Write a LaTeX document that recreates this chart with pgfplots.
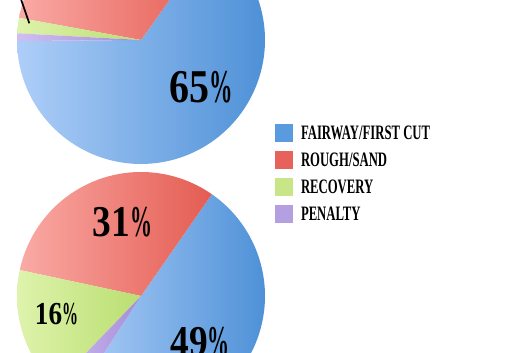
\documentclass[border=0pt]{standalone}
\usepackage{pgfplots}
\pgfplotsset{compat=1.18}
\usepackage{pgfplotstable}
\usepackage{fontspec}
\setmainfont{Liberation Serif}

\definecolor{legBlue}{RGB}{90,154,222}
\definecolor{legRed}{RGB}{232,98,92}
\definecolor{legGreen}{RGB}{200,230,135}
\definecolor{legPurple}{RGB}{180,160,224}
\definecolor{blueL}{RGB}{174,206,248}
\definecolor{blueR}{RGB}{78,145,215}
\definecolor{redL}{RGB}{250,170,165}
\definecolor{redR}{RGB}{228,92,82}
\definecolor{greenL}{RGB}{222,243,172}
\definecolor{greenR}{RGB}{186,222,112}
\definecolor{purpleL}{RGB}{208,190,242}
\definecolor{purpleR}{RGB}{165,140,215}

\pgfplotstableread{
category value
fairway 65
rough 32
recovery 2
penalty 1
}\toppie
\pgfplotstableread{
category value
fairway 49
rough 31
recovery 16
penalty 3
}\botpie

\newcommand\pieslice[6]{%
  \addplot[draw=none, forget plot, left color=#5, right color=#6,
    domain=#3:#4, samples=120, variable=\t]
    ({#1+124*cos(\t)},{#2+124*sin(\t)}) -- (#1,#2) -- cycle;}
\newcommand\pct[2]{\fontsize{#1}{#1}\selectfont\bfseries\scalebox{0.85}[1]{#2}\scalebox{0.5}[1]{\%}}
\newcommand\legtxt[1]{\scalebox{0.62}[1]{#1}}

\begin{document}
\begin{tikzpicture}
\pgfplotstablegetelem{0}{value}\of\toppie\edef\TvA{\pgfplotsretval}
\pgfplotstablegetelem{1}{value}\of\toppie\edef\TvB{\pgfplotsretval}
\pgfplotstablegetelem{2}{value}\of\toppie\edef\TvC{\pgfplotsretval}
\pgfplotstablegetelem{3}{value}\of\toppie\edef\TvD{\pgfplotsretval}
\pgfplotstablegetelem{0}{value}\of\botpie\edef\BvA{\pgfplotsretval}
\pgfplotstablegetelem{1}{value}\of\botpie\edef\BvB{\pgfplotsretval}
\pgfplotstablegetelem{2}{value}\of\botpie\edef\BvC{\pgfplotsretval}
\pgfplotstablegetelem{3}{value}\of\botpie\edef\BvD{\pgfplotsretval}
\pgfmathsetmacro\TS{\TvA+\TvB+\TvC+\TvD}
\pgfmathsetmacro\angTa{180.5}
\pgfmathsetmacro\angTb{\angTa+\TvA/\TS*360}
\pgfmathsetmacro\angTc{\angTb+\TvB/\TS*360}
\pgfmathsetmacro\angTd{\angTc+\TvC/\TS*360}
\pgfmathsetmacro\angTe{\angTd+\TvD/\TS*360}
\pgfmathsetmacro\BS{\BvA+\BvB+\BvC+\BvD}
\pgfmathsetmacro\angBa{237}
\pgfmathsetmacro\angBb{\angBa+\BvA/\BS*360}
\pgfmathsetmacro\angBc{\angBb+\BvB/\BS*360}
\pgfmathsetmacro\angBd{\angBc+\BvC/\BS*360}
\pgfmathsetmacro\angBe{\angBd+\BvD/\BS*360}
\begin{axis}[name=ax, at={(0,0)}, anchor=south west,
  width=530pt, height=353pt, scale only axis,
  xmin=0, xmax=530, ymin=0, ymax=353, hide axis, clip=true,
  legend style={at={(axis cs:275,229)}, anchor=north west, draw=none, fill=none,
    inner sep=0pt, outer sep=0pt, row sep=9pt, column sep=8pt,
    font=\fontsize{20.5}{20.5}\selectfont\bfseries,
    nodes={inner sep=0pt, text height=15.6pt, text depth=2.4pt}},
  legend cell align=left,
  legend image code/.code={\fill[#1] (0pt,-9pt) rectangle (18pt,9pt);}]
\addlegendimage{fill=legBlue, draw=none}
\addlegendentry{\legtxt{FAIRWAY/FIRST CUT}}
\addlegendimage{fill=legRed, draw=none}
\addlegendentry{\legtxt{ROUGH/SAND}}
\addlegendimage{fill=legGreen, draw=none}
\addlegendentry{\legtxt{RECOVERY}}
\addlegendimage{fill=legPurple, draw=none}
\addlegendentry{\legtxt{PENALTY}}
% top pie
\pieslice{141}{313}{\angTa}{\angTb}{blueL}{blueR}
\pieslice{141}{313}{\angTb}{\angTc}{redL}{redR}
\pieslice{141}{313}{\angTc}{\angTd}{greenL}{greenR}
\pieslice{141}{313}{\angTd}{\angTe}{purpleL}{purpleR}
% bottom pie
\pieslice{141}{57}{\angBa}{\angBb}{blueL}{blueR}
\pieslice{141}{57}{\angBb}{\angBc}{redL}{redR}
\pieslice{141}{57}{\angBc}{\angBd}{greenL}{greenR}
\pieslice{141}{57}{\angBd}{\angBe}{purpleL}{purpleR}
% leader line
\addplot[forget plot, black, line width=1.7pt] coordinates {(20.2,356) (29.3,329.7)};
\node[inner sep=0pt] at (axis cs:201,266) {\pct{47}{65}};
\node[inner sep=0pt] at (axis cs:122.5,131.3) {\pct{44}{31}};
\node[inner sep=0pt] at (axis cs:56.5,39) {\pct{32}{16}};
\node[inner sep=0pt] at (axis cs:200,11) {\pct{44}{49}};
\end{axis}
\pgfresetboundingbox
\useasboundingbox (ax.south west) rectangle (ax.north east);
\end{tikzpicture}
\end{document}
